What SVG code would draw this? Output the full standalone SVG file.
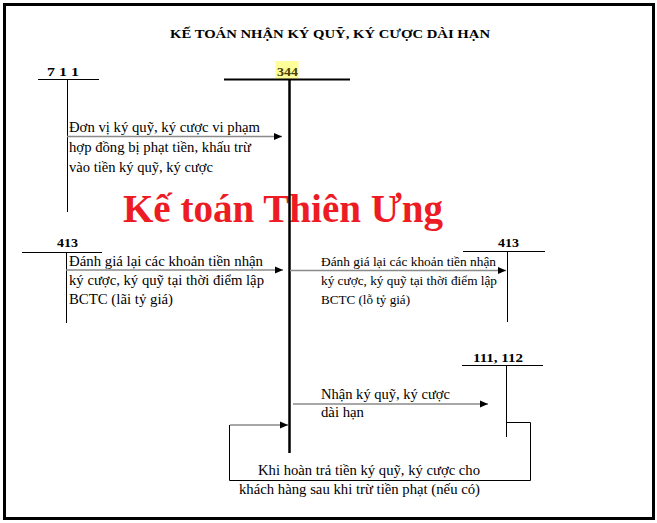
<svg xmlns="http://www.w3.org/2000/svg" width="657" height="523" viewBox="0 0 657 523">
<defs>
<style>
.t{font-family:"Liberation Serif","Times New Roman",serif;font-size:14px;fill:#000}
.ts{font-family:"Liberation Serif","Times New Roman",serif;font-size:12.5px;fill:#000}
.b{font-family:"Liberation Serif","Times New Roman",serif;font-size:13.5px;font-weight:bold;fill:#000}
.thin{stroke:#000;stroke-width:1;fill:none}
.arr{stroke:#8a8a8a;stroke-width:1.5;fill:none}
</style>
<marker id="ah" markerUnits="userSpaceOnUse" markerWidth="9" markerHeight="8" refX="8" refY="4" orient="auto">
<path d="M0,0.5 L8,4 L0,7.5 Z" fill="#000"/>
</marker>
</defs>
<rect x="0" y="0" width="657" height="523" fill="#fff"/>
<rect x="4.5" y="4.5" width="649" height="514" fill="none" stroke="#000" stroke-width="3"/>
<text class="b" x="170" y="38" textLength="320" lengthAdjust="spacingAndGlyphs">KẾ TOÁN NHẬN KÝ QUỸ, KÝ CƯỢC DÀI HẠN</text>
<text x="123" y="222" font-family="'Liberation Serif','Times New Roman',serif" font-size="40" font-weight="bold" fill="#ed1c24" textLength="320" lengthAdjust="spacingAndGlyphs">Kế toán Thiên Ưng</text>

<g id="acc711">
<text class="b" x="47" y="76" textLength="32" lengthAdjust="spacingAndGlyphs">7 1 1</text>
<line class="thin" x1="38" y1="79.5" x2="99" y2="79.5"/>
<line class="thin" x1="67.5" y1="79.5" x2="67.5" y2="212"/>
</g>
<g id="acc344">
<rect x="275.5" y="61" width="23" height="18" fill="#ffff99"/>
<text class="b" x="277" y="76" textLength="21" lengthAdjust="spacingAndGlyphs" style="fill:#4a4000">344</text>
<line x1="224" y1="79.5" x2="350" y2="79.5" stroke="#000" stroke-width="2"/>
<line x1="289.5" y1="80" x2="289.5" y2="453" stroke="#000" stroke-width="2.5"/>
</g>
<g id="acc413left">
<text class="b" x="57" y="247" textLength="21" lengthAdjust="spacingAndGlyphs">413</text>
<line class="thin" x1="22" y1="252.5" x2="102" y2="252.5"/>
<line class="thin" x1="66.5" y1="252.5" x2="66.5" y2="323"/>
</g>
<g id="acc413right">
<text class="b" x="498" y="247" textLength="21" lengthAdjust="spacingAndGlyphs">413</text>
<line class="thin" x1="463" y1="251.5" x2="545" y2="251.5"/>
<line class="thin" x1="507.5" y1="251.5" x2="507.5" y2="322"/>
</g>
<g id="acc111">
<text class="b" x="473" y="362" textLength="50" lengthAdjust="spacingAndGlyphs">111, 112</text>
<line class="thin" x1="462" y1="365.5" x2="543" y2="365.5"/>
<line class="thin" x1="506.5" y1="365.5" x2="506.5" y2="437"/>
</g>

<g id="connectors">
<line class="arr" x1="67" y1="136.5" x2="282" y2="136.5" marker-end="url(#ah)"/>
<line class="arr" x1="66" y1="270" x2="283" y2="270" marker-end="url(#ah)"/>
<line class="arr" x1="290" y1="270.5" x2="506" y2="270.5" marker-end="url(#ah)"/>
<line class="arr" x1="293" y1="404" x2="488" y2="404" marker-end="url(#ah)"/>
<polyline class="thin" points="506.5,422.5 530.5,422.5 530.5,480.5 229.5,480.5 229.5,425"/>
<line class="arr" x1="230" y1="425" x2="288" y2="425" marker-end="url(#ah)"/>
</g>

<g id="labels">
<text class="t" x="69" y="132" textLength="191" lengthAdjust="spacingAndGlyphs">Đơn vị ký quỹ, ký cược vi phạm</text>
<text class="t" x="69" y="152" textLength="182" lengthAdjust="spacingAndGlyphs">hợp đồng bị phạt tiền, khấu trừ</text>
<text class="t" x="69" y="172" textLength="144" lengthAdjust="spacingAndGlyphs">vào tiền ký quỹ, ký cược</text>
<text class="t" x="69" y="266" textLength="194" lengthAdjust="spacingAndGlyphs">Đánh giá lại các khoản tiền nhận</text>
<text class="t" x="69" y="285" textLength="195" lengthAdjust="spacingAndGlyphs">ký cược, ký quỹ tại thời điểm lập</text>
<text class="t" x="69" y="304" textLength="104" lengthAdjust="spacingAndGlyphs">BCTC (lãi tỷ giá)</text>
<text class="ts" x="321" y="266" textLength="175" lengthAdjust="spacingAndGlyphs">Đánh giá lại các khoản tiền nhận</text>
<text class="ts" x="321" y="285" textLength="176" lengthAdjust="spacingAndGlyphs">ký cược, ký quỹ tại thời điểm lập</text>
<text class="ts" x="321" y="304" textLength="89" lengthAdjust="spacingAndGlyphs">BCTC (lỗ tỷ giá)</text>
<text class="t" x="321" y="399" textLength="129" lengthAdjust="spacingAndGlyphs">Nhận ký quỹ, ký cược</text>
<text class="t" x="321" y="417" textLength="43" lengthAdjust="spacingAndGlyphs">dài hạn</text>
<text class="t" x="258" y="475" textLength="222" lengthAdjust="spacingAndGlyphs">Khi hoàn trả tiền ký quỹ, ký cược cho</text>
<text class="t" x="239" y="494" textLength="241" lengthAdjust="spacingAndGlyphs">khách hàng sau khi trừ tiền phạt (nếu có)</text>
</g>
</svg>
